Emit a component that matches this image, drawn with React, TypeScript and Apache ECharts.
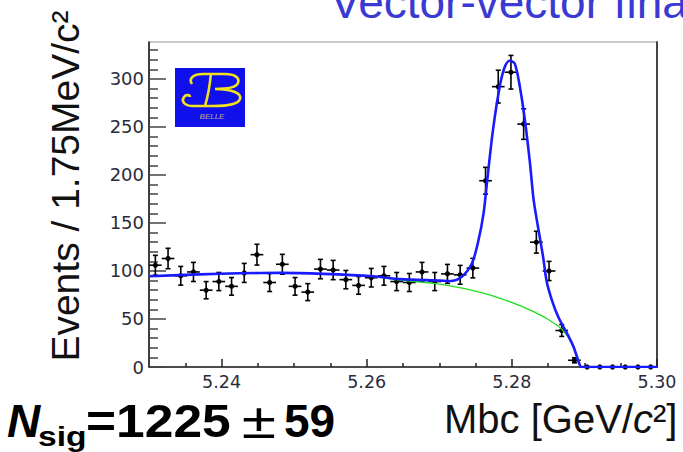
import React, { useEffect, useRef } from "react";
import * as echarts from "echarts";

// Mbc histogram: 40 bins of 1.75 MeV starting at 5.23 GeV
const binStart = 5.23;
const binWidth = 0.00175;
const counts = [
  106, 113, 95, 99, 80, 89, 84, 98, 117, 88,
  107, 84, 78, 102, 101, 91, 85, 93, 95, 89,
  88, 99, 89, 97, 96, 103, 194, 292, 307, 253,
  130, 100, 38, 7, 0, 0, 0, 0, 0, 0,
];

// Total fit (signal + background)
const fitMass = [
  5.2301, 5.237, 5.2425, 5.248, 5.254, 5.2609, 5.2646, 5.2701, 5.2715, 5.2731,
  5.2745, 5.2754, 5.2761, 5.2766, 5.2774, 5.2784, 5.2791, 5.2797, 5.2804, 5.2811,
  5.2818, 5.2825, 5.283, 5.2836, 5.2843, 5.2848, 5.2855, 5.2864, 5.2876, 5.2885,
  5.2892, 5.2896, 5.3,
];
const fitTotal = [
  94.5, 96.5, 97.6, 98, 97, 94.5, 91.5, 90, 89.5, 94,
  108, 132, 160, 194, 247, 295, 314, 319, 316, 292,
  257, 212, 174, 146, 115, 89, 70, 52, 35, 21,
  5.5, 0, 0,
];

// Background component
const bkgMass = [
  5.2301, 5.237, 5.2425, 5.248, 5.254, 5.2609, 5.2646, 5.2692, 5.2738, 5.2784,
  5.283, 5.2862, 5.2876, 5.2885, 5.2892, 5.2894,
];
const bkgValue = [
  94.5, 96.5, 97.6, 98, 97, 94.3, 90.5, 87, 81, 71.5,
  57.6, 43.7, 33, 21, 8, 0,
];

const xMajorTicks = [5.24, 5.26, 5.28, 5.3];
const xMinorTicks = [5.235, 5.245, 5.25, 5.255, 5.265, 5.27, 5.275, 5.285, 5.29, 5.295];
const yMajorTicks = [0, 50, 100, 150, 200, 250, 300];
const yMinorTicks = [
  10, 20, 30, 40, 60, 70, 80, 90, 110, 120, 130, 140, 160, 170, 180, 190,
  210, 220, 230, 240, 260, 270, 280, 290, 310, 320, 330,
];

const yAxisTitle = "Events / 1.75MeV/c²";
const plotTitle = "Vector-vector final state";

// Belle logo letter outline
const belleB =
  "M17,16 C13,10 19,6 28,6 L50,6 C60,6 65,10 63,15 C61,20 51,21 40,21 " +
  "M40,21 C56,21 67,25 65,31 C63,37 50,38 38,38 L18,38 C9,38 6,33 9,29 C11,26 15,27 15,29 " +
  "M36,5 C35,16 33,28 30,38";
echarts.graphic.registerShape("belleB", echarts.graphic.extendPath(belleB, {}));

export default function App() {
  const ref = useRef<HTMLDivElement>(null);

  useEffect(() => {
    if (!ref.current) return;
    const chart = echarts.init(ref.current, null, { renderer: "svg" });

    const points = counts.map((n, i) => [binStart + (i + 0.5) * binWidth, n, Math.sqrt(n)]);
    const total = fitMass.map((m, i) => [m, fitTotal[i]]);
    const bkg = bkgMass.map((m, i) => [m, bkgValue[i]]);

    const tickFont = { fontFamily: "DejaVu Sans", color: "#2b2b3a" };

    chart.setOption({
      animation: false,
      backgroundColor: "#ffffff",
      grid: {
        left: 149,
        top: 42,
        width: 508,
        height: 325,
        show: true,
        borderColor: "#9a9a9a",
        borderWidth: 1,
      },
      xAxis: [
        {
          type: "value",
          min: 5.23,
          max: 5.3,
          position: "bottom",
          splitLine: { show: false },
          axisLine: { show: true, lineStyle: { color: "#222", width: 1.5 } },
          axisTick: {
            show: true,
            inside: true,
            length: 8,
            customValues: xMajorTicks,
            lineStyle: { color: "#222", width: 1.5 },
          },
          axisLabel: {
            show: true,
            customValues: xMajorTicks,
            margin: 6,
            fontSize: 17.5,
            formatter: (v: number) => v.toFixed(2),
            ...tickFont,
          },
        },
        {
          type: "value",
          min: 5.23,
          max: 5.3,
          position: "bottom",
          splitLine: { show: false },
          axisLine: { show: false },
          axisLabel: { show: false },
          axisTick: {
            show: true,
            inside: true,
            length: 4,
            customValues: xMinorTicks,
            lineStyle: { color: "#222", width: 1.5 },
          },
        },
      ],
      yAxis: [
        {
          type: "value",
          min: 0,
          max: 338.5,
          position: "left",
          splitLine: { show: false },
          axisLine: { show: true, lineStyle: { color: "#111", width: 1.5 } },
          axisTick: {
            show: true,
            inside: true,
            length: 17,
            customValues: yMajorTicks,
            lineStyle: { color: "#444", width: 1.5 },
          },
          axisLabel: {
            show: true,
            customValues: yMajorTicks,
            margin: 5,
            fontSize: 18,
            ...tickFont,
          },
        },
        {
          type: "value",
          min: 0,
          max: 338.5,
          position: "left",
          splitLine: { show: false },
          axisLine: { show: false },
          axisLabel: { show: false },
          axisTick: {
            show: true,
            inside: true,
            length: 9,
            customValues: yMinorTicks,
            lineStyle: { color: "#444", width: 1.5 },
          },
        },
        {
          type: "value",
          min: 0,
          max: 338.5,
          position: "right",
          splitLine: { show: false },
          axisLine: { show: true, lineStyle: { color: "#444", width: 2 } },
          axisLabel: { show: false },
          axisTick: { show: false },
        },
      ],
      series: [
        {
          type: "custom",
          name: "data",
          data: points,
          z: 2,
          renderItem: (_params: any, api: any) => {
            const x = api.value(0);
            const y = api.value(1);
            const e = api.value(2);
            const c = api.coord([x, y]);
            const top = api.coord([x, y + e]);
            const bot = api.coord([x, Math.max(0, y - e)]);
            const half = api.size([binWidth, 0])[0] / 2;
            const cap = 2.5;
            const stroke = { stroke: "#000", lineWidth: 1.6 };
            const children: any[] = [
              { type: "line", shape: { x1: c[0] - half, y1: c[1], x2: c[0] + half, y2: c[1] }, style: stroke },
              { type: "circle", shape: { cx: c[0], cy: c[1], r: 2.6 }, style: { fill: "#000" } },
            ];
            if (e > 0) {
              children.push(
                { type: "line", shape: { x1: c[0], y1: top[1], x2: c[0], y2: bot[1] }, style: stroke },
                { type: "line", shape: { x1: c[0] - cap, y1: top[1], x2: c[0] + cap, y2: top[1] }, style: stroke },
                { type: "line", shape: { x1: c[0] - cap, y1: bot[1], x2: c[0] + cap, y2: bot[1] }, style: stroke }
              );
            }
            return { type: "group", children };
          },
        },
        {
          type: "line",
          name: "background",
          data: bkg,
          smooth: 0.3,
          showSymbol: false,
          z: 3,
          lineStyle: { color: "#1fe01f", width: 1.3 },
        },
        {
          type: "line",
          name: "total",
          data: total,
          smooth: 0.3,
          showSymbol: false,
          z: 4,
          lineStyle: { color: "#1a1aff", width: 2.6 },
        },
      ],
      graphic: [
        {
          type: "text",
          x: 330,
          y: 2,
          style: {
            text: plotTitle,
            fill: "#3a3ad2",
            fontSize: 46,
            fontFamily: "Liberation Sans",
            align: "left",
            verticalAlign: "middle",
          },
        },
        {
          type: "text",
          x: 65,
          y: 186,
          rotation: Math.PI / 2,
          style: {
            text: yAxisTitle,
            fill: "#111",
            fontSize: 39,
            fontFamily: "Liberation Sans",
            align: "center",
            verticalAlign: "middle",
          },
        },
        {
          type: "group",
          x: 175,
          y: 68,
          children: [
            { type: "rect", shape: { x: 0, y: 0, width: 70, height: 59 }, style: { fill: "#1010ec" } },
            {
              type: "belleB",
              x: 0,
              y: 0,
              style: { fill: "none", stroke: "#f2e21a", lineWidth: 2.6 },
            },
            {
              type: "text",
              x: 37,
              y: 48,
              style: {
                text: "BELLE",
                fill: "#b9b27a",
                fontSize: 8,
                fontStyle: "italic",
                fontFamily: "Liberation Sans",
                align: "center",
                verticalAlign: "middle",
              },
            },
          ],
        },
        {
          type: "text",
          x: 7,
          y: 421,
          style: {
            text: "N",
            fill: "#000",
            fontSize: 46,
            fontWeight: "bold",
            fontStyle: "italic",
            fontFamily: "Liberation Sans",
            align: "left",
            verticalAlign: "middle",
          },
        },
        {
          type: "text",
          x: 38,
          y: 436,
          scaleX: 1.2,
          style: {
            text: "sig",
            fill: "#000",
            fontSize: 28,
            fontWeight: "bold",
            fontFamily: "Liberation Sans",
            align: "left",
            verticalAlign: "middle",
          },
        },
        {
          type: "text",
          x: 86,
          y: 421,
          scaleX: 1.12,
          style: {
            text: "=1225",
            fill: "#000",
            fontSize: 46,
            fontWeight: "bold",
            fontFamily: "Liberation Sans",
            align: "left",
            verticalAlign: "middle",
          },
        },
        {
          type: "text",
          x: 259,
          y: 421,
          scaleX: 1.25,
          style: {
            text: "±",
            fill: "#000",
            fontSize: 50,
            fontFamily: "Liberation Sans",
            align: "center",
            verticalAlign: "middle",
          },
        },
        {
          type: "text",
          x: 284,
          y: 421,
          style: {
            text: "59",
            fill: "#000",
            fontSize: 46,
            fontWeight: "bold",
            fontFamily: "Liberation Sans",
            align: "left",
            verticalAlign: "middle",
          },
        },
        {
          type: "text",
          x: 444,
          y: 419,
          style: {
            text: "{n|Mbc [GeV/}{i|c}{n|²]}",
            rich: {
              n: { fontSize: 40, fontFamily: "Liberation Sans", fill: "#111" },
              i: { fontSize: 40, fontFamily: "Liberation Sans", fontStyle: "italic", fill: "#111" },
            },
            align: "left",
            verticalAlign: "middle",
          },
        },
      ],
    });

    return () => chart.dispose();
  }, []);

  return (
    <div
      ref={ref}
      style={{ position: "fixed", left: 0, top: 0, width: 683, height: 452 }}
    />
  );
}
